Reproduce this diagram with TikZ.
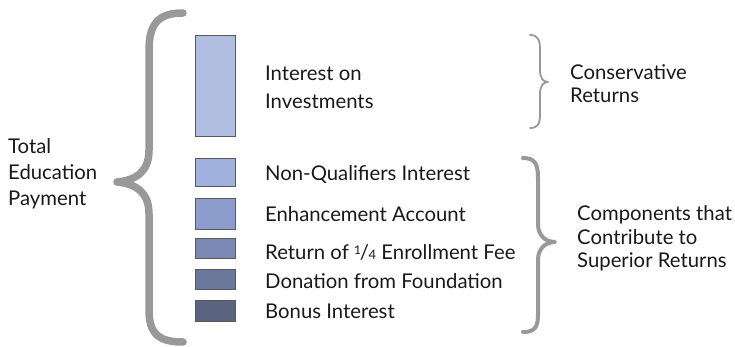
\documentclass[tikz,border=0pt]{standalone}
\usepackage{fontspec}
\setmainfont{Lato}
\begin{document}
\begin{tikzpicture}[x=1pt,y=-1pt,
  bar/.style={draw=black!65, line width=1pt, inner sep=0pt, anchor=north west, minimum width=40pt},
  lbl/.style={anchor=base west, inner sep=0pt, text=black!90, font=\fontsize{20.3}{20}\selectfont},
  brc/.style={draw=black!40, line cap=round, line join=round}
]
\useasboundingbox (0,0) rectangle (735,347);
\definecolor{c0}{HTML}{B1BDE1}
\definecolor{c1}{HTML}{A1B1DD}
\definecolor{c2}{HTML}{8C9CCD}
\definecolor{c3}{HTML}{7B89B4}
\definecolor{c4}{HTML}{6B789B}
\definecolor{c5}{HTML}{5A637F}

% bars
\node[bar, fill=c0, minimum height=101pt] (r0) at (195,35) {};
\node[bar, fill=c1, minimum height=28pt] (r1) at (195,158) {};
\node[bar, fill=c2, minimum height=31pt] (r2) at (195,198) {};
\node[bar, fill=c3, minimum height=20pt] (r3) at (195,238) {};
\node[bar, fill=c4, minimum height=20pt] (r4) at (195,269) {};
\node[bar, fill=c5, minimum height=21pt] (r5) at (195,300) {};

% item labels
\node[lbl] (t0a) at (265,81) {Interest on};
\node[lbl] (t0b) at (265,109) {Investments};
\node[lbl] (t1) at (265,181) {Non-Qualifiers Interest};
\node[lbl] (t2) at (265,222) {Enhancement Account};
\node[lbl] (t3) at (265,259) {Return of \raisebox{0.45ex}{\fontsize{12}{12}\selectfont 1}\kern-0.05em/\kern-0.02em{\fontsize{13}{13}\selectfont 4} Enrollment Fee};
\node[lbl] (t4) at (265,288) {Donation from Foundation};
\node[lbl] (t5) at (265,318) {Bonus Interest};

% left labels
\node[lbl] (L1) at (8,154) {Total};
\node[lbl] (L2) at (8,180) {Education};
\node[lbl] (L3) at (8,206) {Payment};

% right labels
\node[lbl] (C1) at (570,80) {Conservative};
\node[lbl] (C2) at (570,103) {Returns};
\node[lbl] (S1) at (577,221) {Components that};
\node[lbl] (S2) at (577,244) {Contribute to};
\node[lbl] (S3) at (577,267) {Superior Returns};

% big left brace
\draw[brc, line width=7.5pt]
  (183,13) .. controls (160,13) and (149,22) .. (149,50) -- (149,150)
  .. controls (149,170) and (138,180) .. (117,182)
  .. controls (138,184) and (149,194) .. (149,214) -- (149,310)
  .. controls (149,335) and (160,342) .. (183,342);

% small right brace
\draw[brc, line width=1.8pt]
  (530,35) .. controls (538,35) and (540,40) .. (540,50) -- (540,70)
  .. controls (540,78) and (543,82) .. (548,82)
  .. controls (543,82) and (540,86) .. (540,94) -- (540,114)
  .. controls (540,124) and (538,128) .. (530,128);

% big right brace
\draw[brc, line width=4pt]
  (523,158) .. controls (535,158) and (538,164) .. (538,178) -- (538,224)
  .. controls (538,235) and (545,242) .. (555,242)
  .. controls (545,242) and (538,249) .. (538,260) -- (538,314)
  .. controls (538,327) and (535,332) .. (523,332);
\end{tikzpicture}
\end{document}
